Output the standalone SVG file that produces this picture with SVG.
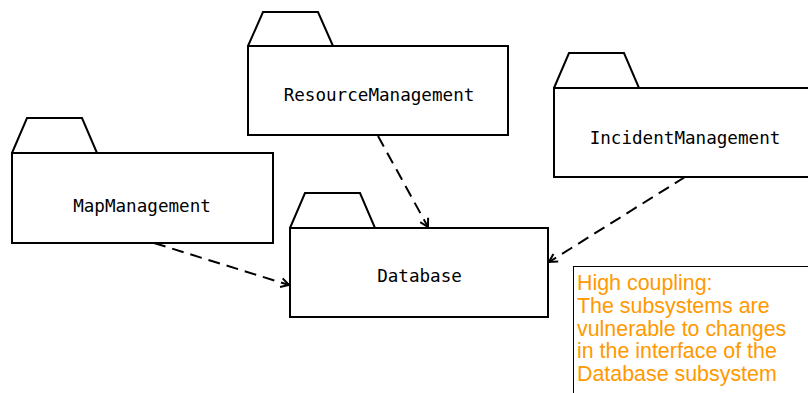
<svg xmlns="http://www.w3.org/2000/svg" width="808" height="393" viewBox="0 0 808 393">
<style>
.pkg{fill:#fff;stroke:#000;stroke-width:2;stroke-linejoin:miter}
.lbl{font-family:"DejaVu Sans Mono","Liberation Mono",monospace;font-size:17.6px;fill:#000;text-anchor:middle}
.dep{fill:none;stroke:#000;stroke-width:2;stroke-dasharray:12,7;marker-end:url(#open)}
.note{font-family:"Liberation Sans",Arial,sans-serif;font-size:21.4px;fill:#FF9900}
</style>
<defs>
<marker id="open" viewBox="0 0 12 12" refX="10" refY="6" markerWidth="12" markerHeight="12" markerUnits="userSpaceOnUse" orient="auto">
<path d="M2,1.5 L10,6 L2,10.5" fill="none" stroke="#000" stroke-width="2"/>
</marker>
</defs>
<rect width="808" height="393" fill="#fff"/>
<g id="ResourceManagement">
<path class="pkg" d="M248,46 L263,12 L318,12 L333,46"/>
<rect class="pkg" x="248" y="46" width="260" height="89"/>
<text class="lbl" x="379" y="101">ResourceManagement</text>
</g>
<g id="MapManagement">
<path class="pkg" d="M12,153 L27,118 L82,118 L97,153"/>
<rect class="pkg" x="12" y="153" width="261" height="90"/>
<text class="lbl" x="142" y="212">MapManagement</text>
</g>
<g id="IncidentManagement">
<path class="pkg" d="M554,88 L569,53 L624,53 L639,88"/>
<rect class="pkg" x="554" y="88" width="270" height="89"/>
<text class="lbl" x="685" y="144">IncidentManagement</text>
</g>
<g id="Database">
<path class="pkg" d="M290,228 L305,193 L360,193 L375,228"/>
<rect class="pkg" x="290" y="228" width="258" height="89"/>
<text class="lbl" x="419.5" y="282">Database</text>
</g>
<g id="connectors">
<path class="dep" d="M154,243 L289,285"/>
<path class="dep" d="M378,136 L428,227"/>
<path class="dep" d="M685,177 L549,262"/>
</g>
<g id="note">
<rect x="573.5" y="266.5" width="300" height="200" fill="#fff" stroke="#000" stroke-width="1"/>
<text class="note" x="577" y="290">High coupling:</text>
<text class="note" x="577" y="313">The subsystems are</text>
<text class="note" x="577" y="336">vulnerable to changes</text>
<text class="note" x="577" y="358">in the interface of the</text>
<text class="note" x="577" y="381">Database subsystem</text>
</g>
</svg>
